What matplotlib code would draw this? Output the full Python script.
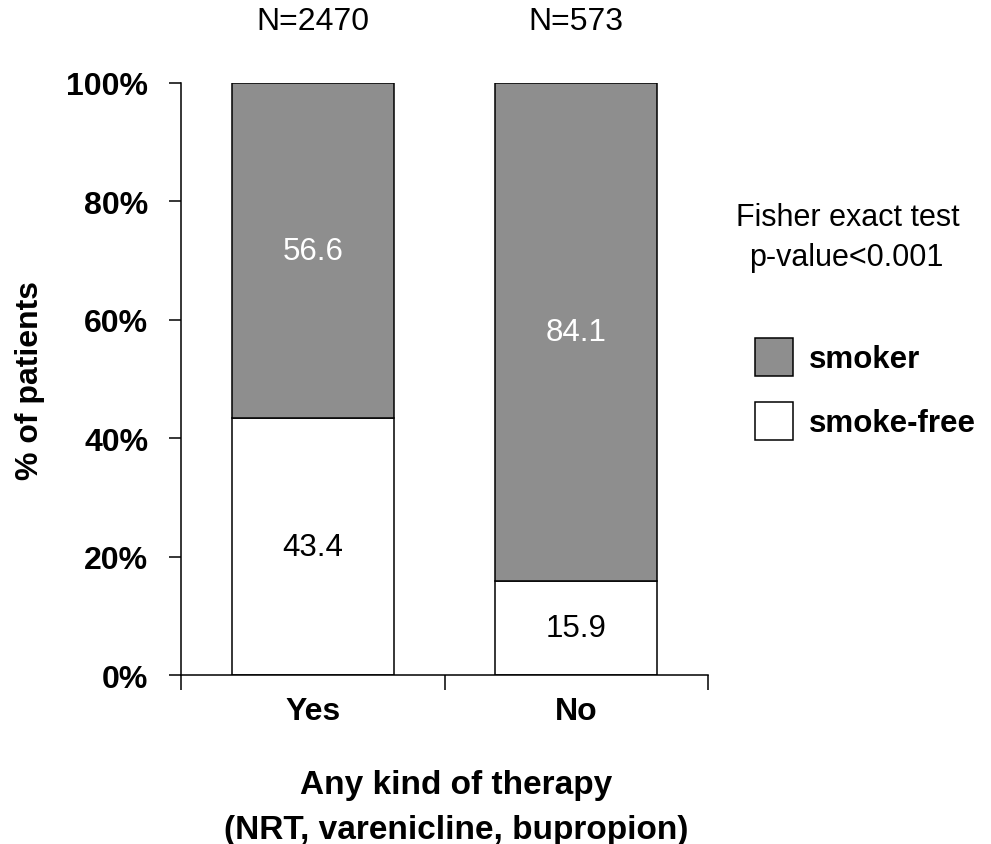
import matplotlib.pyplot as plt
import matplotlib.transforms as mtransforms
from matplotlib.patches import Patch
import numpy as np

plt.rcParams['font.family'] = ['Liberation Sans', 'DejaVu Sans']

categories = ["Yes", "No"]
n_labels = ["N=2470", "N=573"]
smoke_free = [43.4, 15.9]
smoker = [56.6, 84.1]

gray = '#8e8e8e'

fig = plt.figure(figsize=(9.91, 8.45), dpi=100)
ax = fig.add_axes([181 / 991, 1 - 676 / 845, 527 / 991, 592 / 845])

x = np.arange(len(categories))
width = 0.615
ax.bar(x, smoke_free, width, color='white', edgecolor='black', linewidth=1.1)
ax.bar(x, smoker, width, bottom=smoke_free, color=gray, edgecolor='black', linewidth=1.1)

# value labels inside the segments
for i in range(len(categories)):
    ax.text(x[i], smoke_free[i] / 2, f"{smoke_free[i]:.1f}", ha='center', va='center',
            fontsize=22.5, color='black')
    ax.text(x[i], smoke_free[i] + smoker[i] / 2, f"{smoker[i]:.1f}", ha='center', va='center',
            fontsize=22.5, color='white')

trans = mtransforms.blended_transform_factory(ax.transData, ax.transAxes)
for i, lab in enumerate(n_labels):
    ax.text(x[i], 1.105, lab, transform=trans, ha='center', va='center', fontsize=23)

ax.set_xlim(-0.5, 1.5)
ax.set_ylim(0, 100)
ax.set_yticks([0, 20, 40, 60, 80, 100])
ax.set_yticklabels([f"{v}%" for v in [0, 20, 40, 60, 80, 100]], fontsize=23, fontweight='bold')
ax.tick_params(axis='y', length=8.5, width=1.1, pad=15)

ax.set_xticks([-0.5, 0.5, 1.5])
ax.set_xticklabels([])
ax.tick_params(axis='x', which='major', length=11, width=1.1)
ax.set_xticks(x, minor=True)
ax.set_xticklabels(categories, minor=True, fontsize=23, fontweight='bold')
ax.tick_params(axis='x', which='minor', length=0, pad=15)

for s in ['top', 'right']:
    ax.spines[s].set_visible(False)
for s in ['left', 'bottom']:
    ax.spines[s].set_linewidth(1.1)

fig.text(30 / 991, 1 - 380 / 845, "% of patients", rotation=90, ha='center', va='center',
         fontsize=23, fontweight='bold')
fig.text(456 / 991, 1 - 786 / 845, "Any kind of therapy", ha='center', va='center',
         fontsize=24, fontweight='bold')
fig.text(456 / 991, 1 - 831 / 845, "(NRT, varenicline, bupropion)", ha='center', va='center',
         fontsize=24, fontweight='bold')

fig.text(848 / 991, 1 - 218 / 845, "Fisher exact test", ha='center', va='center', fontsize=22)
fig.text(846 / 991, 1 - 258 / 845, "p-value<0.001", ha='center', va='center', fontsize=22)

handles = [Patch(facecolor=gray, edgecolor='black', linewidth=1.1),
           Patch(facecolor='white', edgecolor='black', linewidth=1.1)]
fig.legend(handles, ["smoker", "smoke-free"], loc='upper left',
           bbox_to_anchor=(755 / 991, 1 - 339 / 845), frameon=False,
           prop={'size': 22.5, 'weight': 'bold'}, handlelength=1.22, handleheight=1.49,
           handletextpad=0.5, labelspacing=0.83, borderpad=0, borderaxespad=0)

fig.savefig('out.png', dpi=100)
